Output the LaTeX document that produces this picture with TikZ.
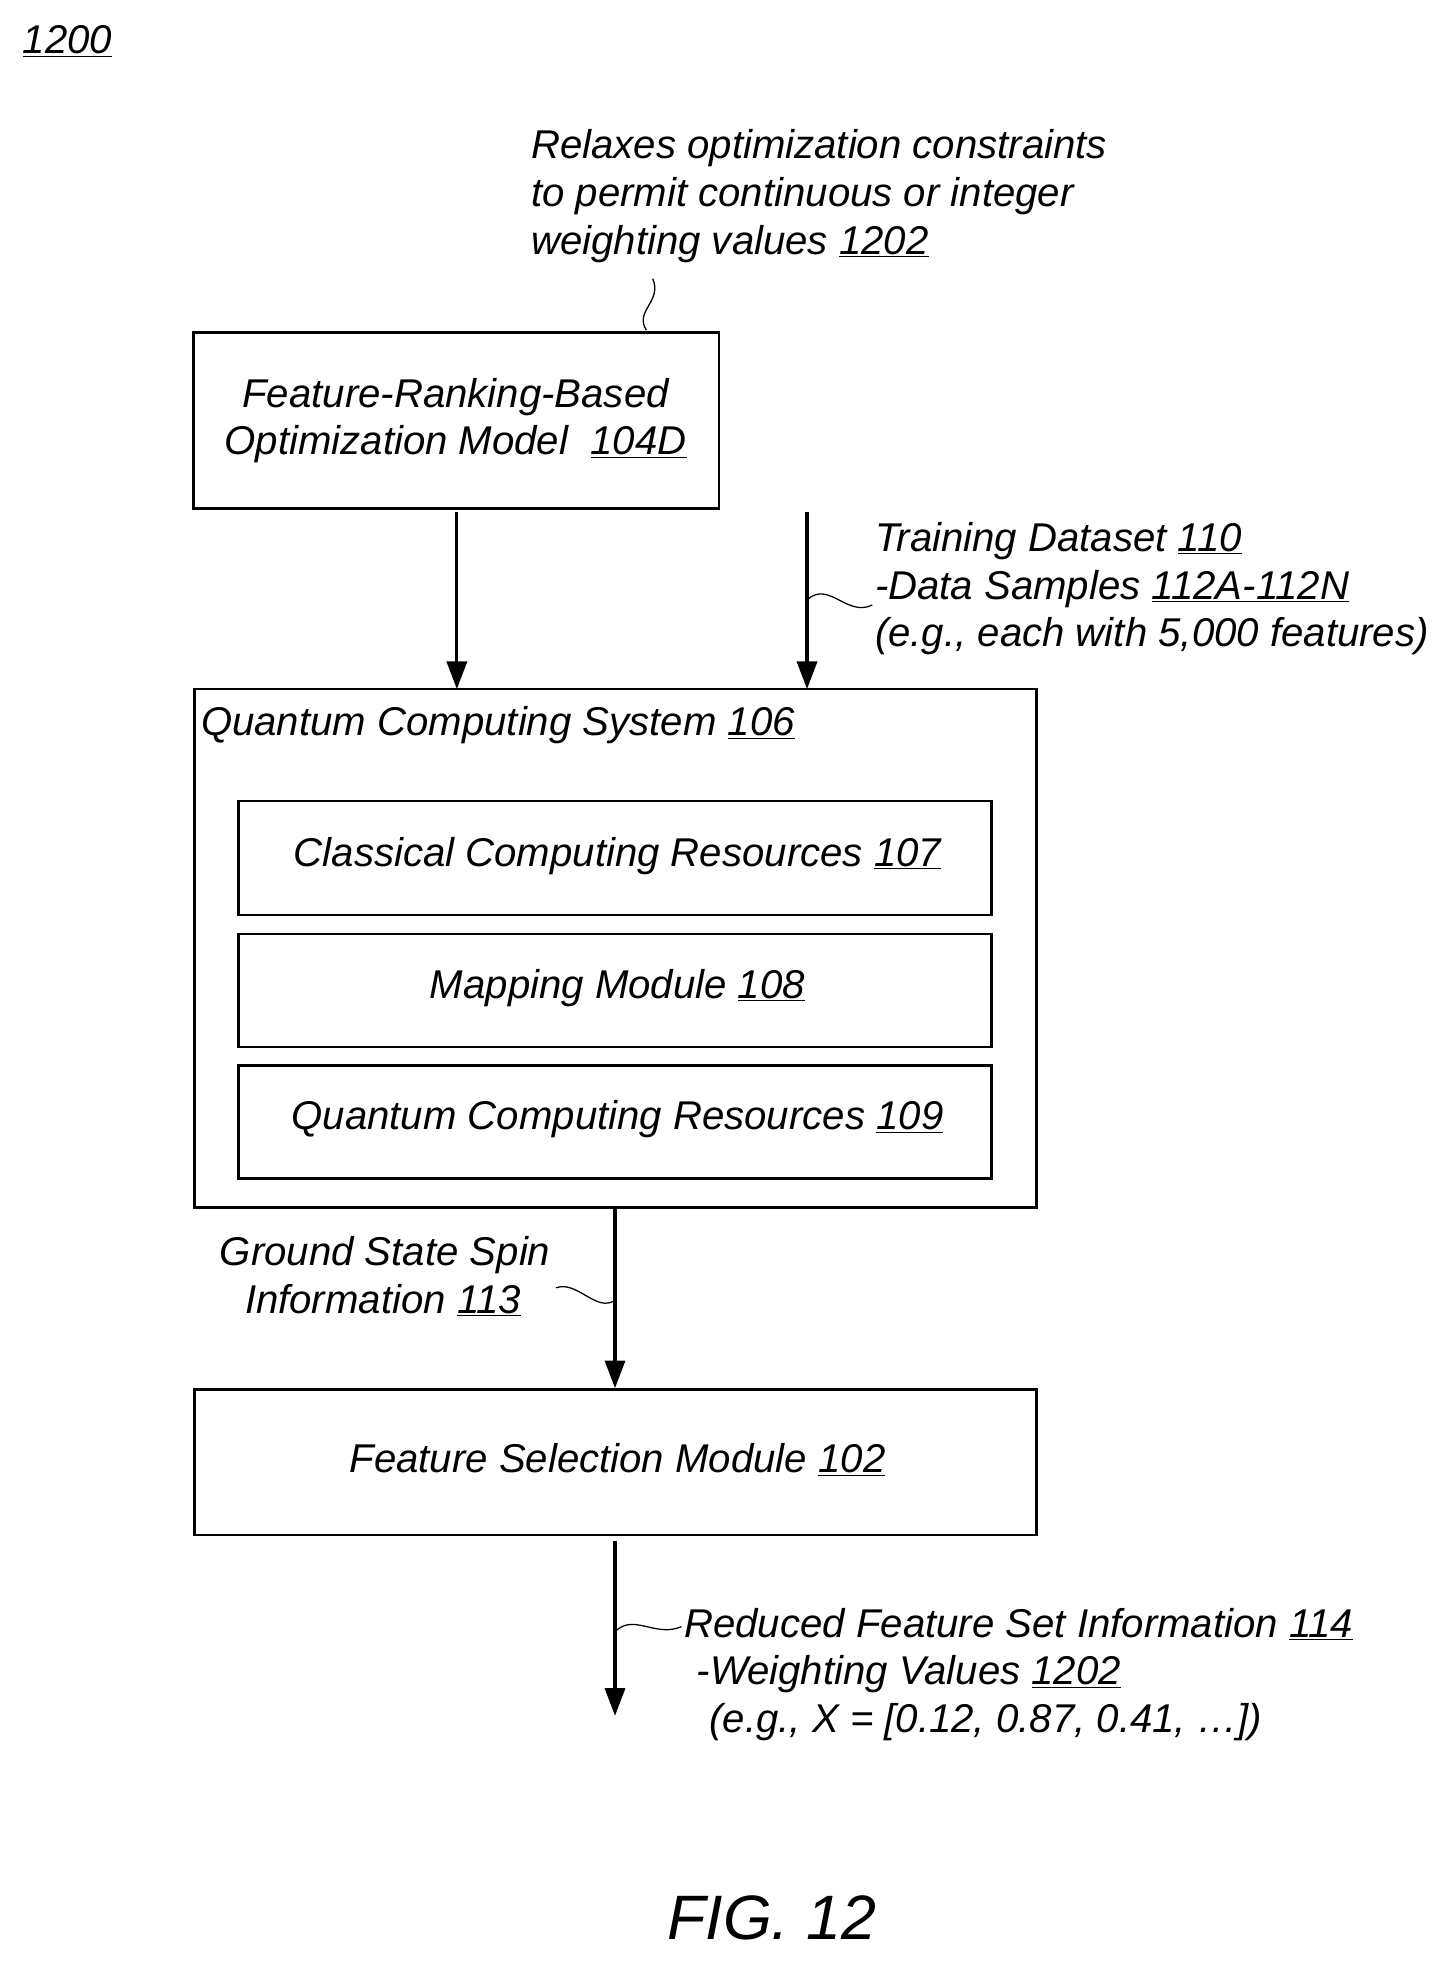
\documentclass[tikz,border=0pt]{standalone}
\usepackage{fontspec}
\setmainfont{Liberation Sans}
\usetikzlibrary{arrows.meta}
\newcommand{\refn}[1]{\underline{#1}}
\begin{document}
\begin{tikzpicture}[x=1pt, y=-1pt,
                    box_style/.style={draw, line width=2pt, inner sep=0pt},
                    lbl/.style={font=\fontsize{32}{38}\selectfont\itshape, align=left, inner sep=0pt},
                    flow/.style={-{Triangle[length=22pt, width=16pt]}, line width=2.5pt},
                    squig/.style={line width=1pt}
   ]
   \useasboundingbox (0,0) rectangle (1160,1564);
   \node[lbl, anchor=west] (fig) at (18,33) {\refn{1200}};
   % Boxes
   \draw[box_style] (154,265) rectangle (573,405);
   \coordinate (m) at (363,335);
   \node[lbl, align=center] (model) at (m) {Feature-Ranking-Based\\Optimization Model \ \refn{104D}};
   \draw[box_style] (155,549) rectangle (826,962);
   \node[lbl, anchor=west] (qcs) at (160,578) {Quantum Computing System \refn{106}};
   \draw[box_style] (190,638) rectangle (790,729);
   \node[lbl] (ccr) at (492,682) {Classical Computing Resources \refn{107}};
   \draw[box_style] (190,744) rectangle (790,834);
   \node[lbl] (mm) at (492,787) {Mapping Module \refn{108}};
   \draw[box_style] (190,849) rectangle (790,939);
   \node[lbl] (qcr) at (492,892) {Quantum Computing Resources \refn{109}};
   \draw[box_style] (155,1107) rectangle (826,1223);
   \node[lbl] (fsm) at (492,1163) {Feature Selection Module \refn{102}};
   % Labels
   \node[lbl, anchor=north west] (relax) at (423,103) {Relaxes optimization constraints\\to permit continuous or integer\\weighting values \refn{1202}};
   \node[lbl, anchor=north west] (train) at (697,416) {Training Dataset \refn{110}\\-Data Samples \refn{112A-112N}\\(e.g., each with 5,000 features)};
   \node[lbl, anchor=north west] (ground) at (175,985) {Ground State Spin\\\hspace*{20pt}Information \refn{113}};
   \node[lbl, anchor=north west] (reduced) at (545,1281) {Reduced Feature Set Information \refn{114}\\\hspace*{10pt}-Weighting Values \refn{1202}\\\hspace*{20pt}(e.g., X = [0.12, 0.87, 0.41, \dots])};
   \node[font=\fontsize{50}{56}\selectfont\itshape] (title) at (615,1528) {FIG. 12};
   % Connectors
   \coordinate (a1s) at (364,408); \coordinate (a1e) at (364,549);
   \coordinate (a2s) at (643,408); \coordinate (a2e) at (643,549);
   \coordinate (a3s) at (490,962); \coordinate (a3e) at (490,1106);
   \coordinate (a4s) at (490,1228); \coordinate (a4e) at (490,1367);
   \draw[flow] (a1s) -- (a1e);
   \draw[flow] (a2s) -- (a2e);
   \draw[flow] (a3s) -- (a3e);
   \draw[flow] (a4s) -- (a4e);
   % Leader lines
   \draw[squig] (515,263) .. controls (505,248) and (528,240) .. (520,222);
   \draw[squig] (643,478) .. controls (660,462) and (675,492) .. (695,482);
   \draw[squig] (490,1036) .. controls (475,1046) and (460,1020) .. (443,1026);
   \draw[squig] (490,1300) .. controls (505,1285) and (522,1305) .. (543,1296);
\end{tikzpicture}
\end{document}
